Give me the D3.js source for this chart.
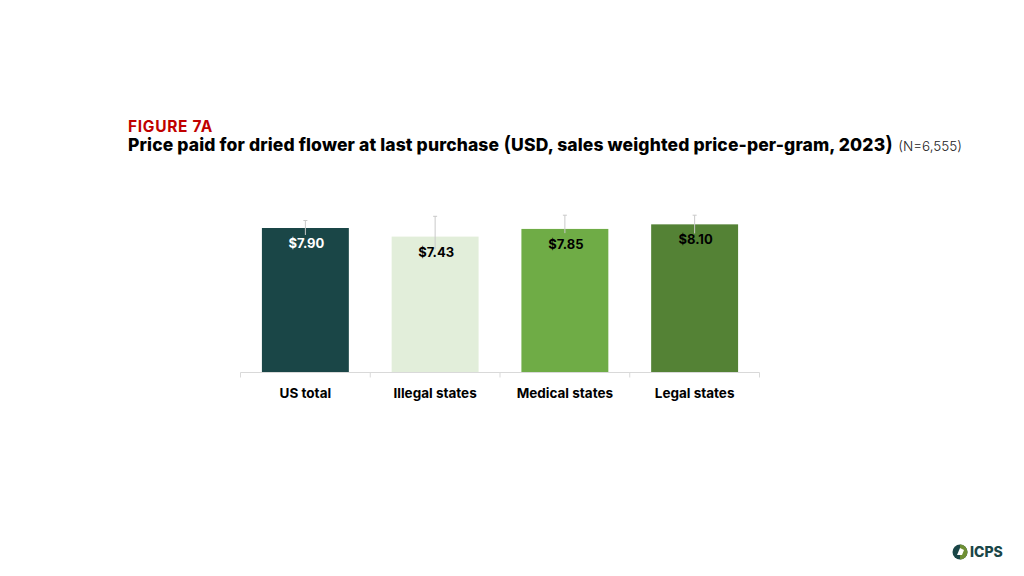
<!DOCTYPE html>
<html>
<head>
<meta charset="utf-8">
<script src="https://cdn.jsdelivr.net/npm/d3@7"></script>
<style>
  html, body { margin: 0; padding: 0; background: #fff; }
  text { font-family: Inter, "Open Sans", sans-serif; }
</style>
</head>
<body>
<svg id="vis-svg"></svg>
<script>
"use strict";

var categories = ["US total", "Illegal states", "Medical states", "Legal states"];
var prices = [7.90, 7.43, 7.85, 8.10];
var errLow = [7.52, 6.72, 7.62, 7.60];
var errHigh = [8.31, 8.54, 8.60, 8.60];
var barColors = ["#1a4647", "#e2eeda", "#6fac46", "#548235"];
var labelColors = ["#ffffff", "#000000", "#000000", "#000000"];

var width = 1024,
    height = 576;

var svg = d3.select("#vis-svg")
    .attr("width", width)
    .attr("height", height)
    .style("display", "block");

// title block
svg.append("text")
    .attr("x", 128).attr("y", 132)
    .attr("font-size", 15.5).attr("font-weight", 700)
    .attr("letter-spacing", 0.7)
    .attr("fill", "#c00000")
    .text("FIGURE 7A");

var title = svg.append("text")
    .attr("x", 128).attr("y", 151)
    .attr("font-size", 17.5).attr("font-weight", 800)
    .attr("letter-spacing", 0.13)
    .attr("fill", "#000");
title.append("tspan").text("Price paid for dried flower at last purchase ");
title.append("tspan").attr("font-size", 21).attr("font-weight", 600).text("(");
title.append("tspan").text("USD, sales weighted price-per-gram, 2023");
title.append("tspan").attr("font-size", 21).attr("font-weight", 600).text(")");
title.append("tspan")
    .attr("dx", 5)
    .attr("font-size", 13.5).attr("font-weight", 300).attr("fill", "#222")
    .attr("letter-spacing", 0)
    .text("(N=6,555)");

var x = d3.scaleBand()
    .domain(categories)
    .range([240.5, 759.5])
    .paddingInner(0.33)
    .paddingOuter(0.165);

var y = d3.scaleLinear()
    .domain([0, 10])
    .range([372.5, 189.6]);

// bars
svg.selectAll("rect.bar")
    .data(categories)
    .enter().append("rect")
    .attr("class", "bar")
    .attr("x", function (d) { return x(d); })
    .attr("width", x.bandwidth())
    .attr("y", function (d, i) { return y(prices[i]); })
    .attr("height", function (d, i) { return y(0) - y(prices[i]); })
    .attr("fill", function (d, i) { return barColors[i]; });

// error bars
var errs = svg.selectAll("g.err")
    .data(categories)
    .enter().append("g")
    .attr("class", "err")
    .attr("stroke", "#c9c9c9")
    .attr("stroke-width", 1);

errs.append("line")
    .attr("x1", function (d) { return x(d) + x.bandwidth() / 2; })
    .attr("x2", function (d) { return x(d) + x.bandwidth() / 2; })
    .attr("y1", function (d, i) { return y(errLow[i]); })
    .attr("y2", function (d, i) { return y(errHigh[i]); });

errs.append("line")
    .attr("x1", function (d) { return x(d) + x.bandwidth() / 2 - 2; })
    .attr("x2", function (d) { return x(d) + x.bandwidth() / 2 + 2; })
    .attr("y1", function (d, i) { return y(errHigh[i]); })
    .attr("y2", function (d, i) { return y(errHigh[i]); });

// value labels
svg.selectAll("text.value")
    .data(categories)
    .enter().append("text")
    .attr("class", "value")
    .attr("x", function (d) { return x(d) + x.bandwidth() / 2 + 1; })
    .attr("y", function (d, i) { return y(prices[i]) + 20; })
    .attr("text-anchor", "middle")
    .attr("font-size", 13).attr("font-weight", 700)
    .attr("fill", function (d, i) { return labelColors[i]; })
    .text(function (d, i) { return d3.format("$.2f")(prices[i]); });

// x axis, ticks go down from the baseline at the band edges
var axisLine = svg.append("g").attr("stroke", "#d9d9d9").attr("stroke-width", 1);
axisLine.append("line")
    .attr("x1", 240.5).attr("x2", 759.5)
    .attr("y1", y(0)).attr("y2", y(0));
axisLine.selectAll("line.tick")
    .data(d3.range(categories.length + 1))
    .enter().append("line")
    .attr("class", "tick")
    .attr("x1", function (i) { return 240.5 + i * x.step(); })
    .attr("x2", function (i) { return 240.5 + i * x.step(); })
    .attr("y1", y(0)).attr("y2", y(0) + 5);

svg.selectAll("text.cat")
    .data(categories)
    .enter().append("text")
    .attr("class", "cat")
    .attr("x", function (d) { return x(d) + x.bandwidth() / 2; })
    .attr("y", 397.5)
    .attr("text-anchor", "middle")
    .attr("font-size", 13.5).attr("font-weight", 700)
    .attr("fill", "#000")
    .text(function (d) { return d; });

// ICPS logo
var logo = svg.append("g").attr("transform", "translate(960,552)");
logo.append("circle").attr("r", 7.5).attr("fill", "#1a4647");
logo.append("path").attr("d", "M0,-7.5A7.5,7.5 0 0 1 0,7.5Z").attr("fill", "#6f8f35");
logo.append("path").attr("d", "M-3,3 L0,-4 L4,-2 L2,3 Z").attr("fill", "#fff");
svg.append("text")
    .attr("x", 970).attr("y", 557)
    .attr("font-size", 14).attr("font-weight", 800)
    .attr("fill", "#1a4647")
    .text("ICPS");
</script>
</body>
</html>
